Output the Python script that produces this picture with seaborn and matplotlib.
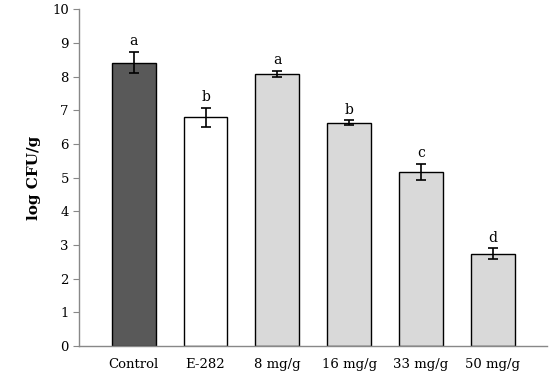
import numpy as np
import pandas as pd
import matplotlib
matplotlib.use("Agg")
import matplotlib.pyplot as plt
import seaborn as sns

# data
treatments = ["Control", "E-282", "8 mg/g", "16 mg/g", "33 mg/g", "50 mg/g"]
log_cfu = [8.42, 6.79, 8.08, 6.63, 5.18, 2.74]
err = [0.32, 0.29, 0.10, 0.08, 0.24, 0.16]
letters = ["a", "b", "a", "b", "c", "d"]
bar_colors = ["#595959", "#ffffff", "#d9d9d9", "#d9d9d9", "#d9d9d9", "#d9d9d9"]

df = pd.DataFrame({"treatment": treatments, "log_cfu": log_cfu})

sns.set_style("white")
plt.rcParams["font.family"] = ["DejaVu Serif"]
plt.rcParams.update({"text.color": "black", "axes.labelcolor": "black",
                     "xtick.color": "black", "ytick.color": "black"})

fig, ax = plt.subplots(figsize=(5.5, 3.76), dpi=100)
sns.barplot(data=df, x="treatment", y="log_cfu", hue="treatment",
            palette=bar_colors, width=0.61, edgecolor="black", linewidth=1.0,
            legend=False, ax=ax)

x = np.arange(len(treatments))
ax.errorbar(x, log_cfu, yerr=err, fmt="none", ecolor="black",
            elinewidth=1.2, capsize=3.5, capthick=1.2)

for xi, v, e, lab in zip(x, log_cfu, err, letters):
    ax.text(xi, v + e + 0.1, lab, ha="center", va="bottom", fontsize=10)

ax.set_xlim(-0.76, 5.76)
ax.set_ylim(0, 10)
ax.set_yticks(range(0, 11))
ax.set_xlabel("")
ax.set_ylabel("log CFU/g", fontsize=11, fontweight="bold", labelpad=8)
ax.tick_params(axis="y", labelsize=9.5, length=4, color="#888888", direction="out", left=True)
ax.tick_params(axis="x", labelsize=9.5, length=0, pad=9)

for s in ["top", "right"]:
    ax.spines[s].set_visible(False)
for s in ["left", "bottom"]:
    ax.spines[s].set_color("#888888")
    ax.spines[s].set_linewidth(1.0)

fig.subplots_adjust(left=0.144, right=0.995, bottom=0.08, top=0.975)
fig.savefig("out.png", dpi=100)
